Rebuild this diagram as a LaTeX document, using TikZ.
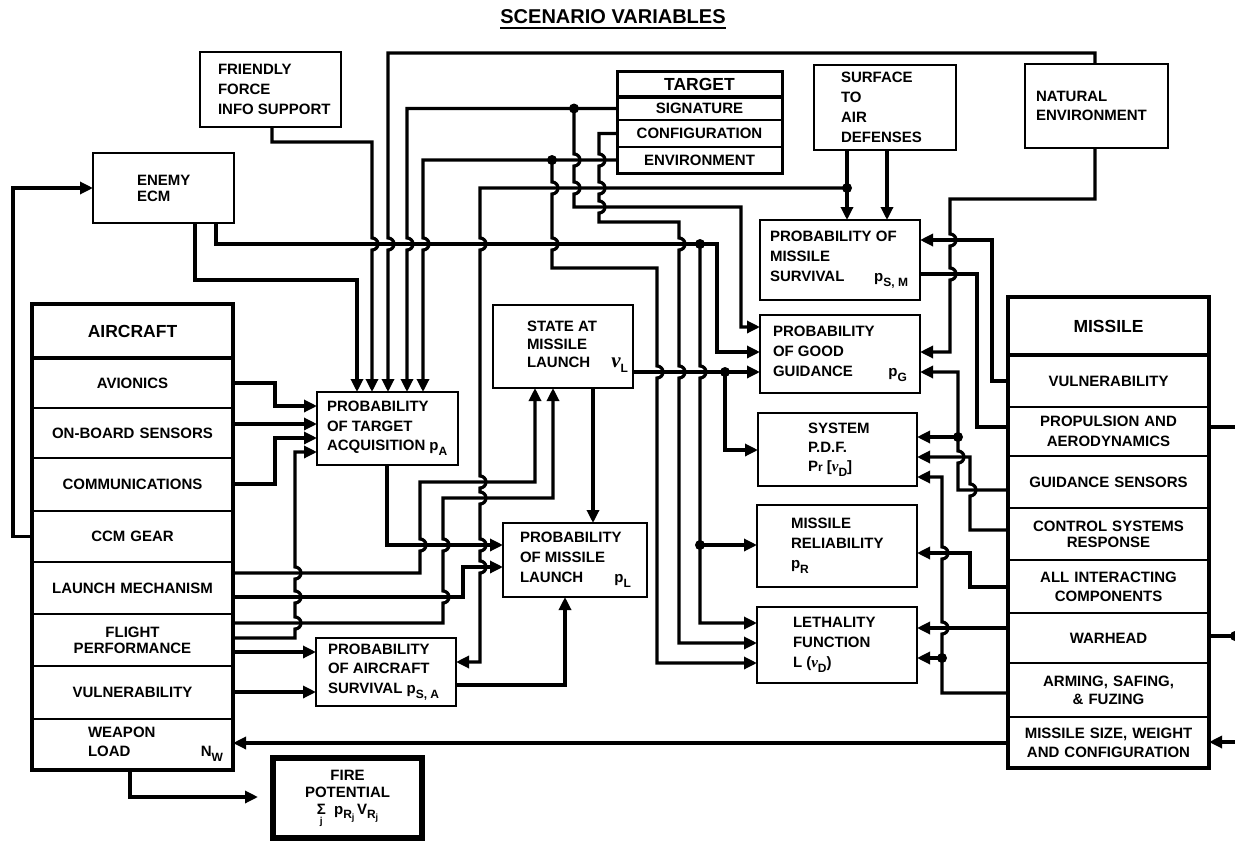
\documentclass[tikz,border=0pt]{standalone}
\usepackage{fontspec}
\setmainfont{Liberation Sans}
\newfontfamily\nufont{Liberation Serif}
\usetikzlibrary{arrows.meta}
\newcommand\sbs[1]{\raisebox{-0.32em}{\fontsize{12}{12}\selectfont #1}}
\newcommand\nuit{{\nufont\itshape\bfseries ν}}
\newcommand\jd[2]{-- (#1,#2-6) arc(-90:90:6)}
\newcommand\ju[2]{-- (#1,#2+6) arc(90:-90:6)}
\newcommand\lt[3]{\hspace*{#1pt}\parbox{#2pt}{\raggedright #3}}
\begin{document}
\begin{tikzpicture}[x=1pt,y=-1pt,
  font=\bfseries\fontsize{15}{20}\selectfont,
  bx/.style={draw, line width=2.4pt, inner sep=0pt, outer sep=0pt, anchor=north west},
  row/.style={draw, line width=1.4pt, inner sep=0pt, outer sep=0pt, anchor=north west, align=center},
  arow/.style={row, minimum width=201pt, text width=195pt},
  trow/.style={row, minimum width=165pt, text width=159pt},
  conn/.style={line width=3.2pt},
  arr/.style={conn, -{Triangle[length=13pt,width=12pt]}}]
\useasboundingbox (0,0) rectangle (1235,841);

% title
\node[inner sep=0pt] (title) at (613,17) {\fontsize{20}{24}\selectfont SCENARIO VARIABLES};
\draw[line width=1.6pt] ([yshift=-4pt]title.base west) -- ([yshift=-4pt]title.base east);

% upper boxes
\node[bx, minimum width=141pt, minimum height=75pt] (ff) at (200,52) {\lt{18}{123}{FRIENDLY\\FORCE\\INFO SUPPORT}};
\node[bx, minimum width=141pt, minimum height=70pt, font=\bfseries\fontsize{15}{16}\selectfont] (ecm) at (93,153) {\lt{44}{97}{ENEMY\\ECM}};
\node[bx, minimum width=142pt, minimum height=85pt] (sam) at (814,65) {\lt{27}{115}{SURFACE\\TO\\AIR\\DEFENSES}};
\node[bx, minimum width=143pt, minimum height=84pt, font=\bfseries\fontsize{15}{19}\selectfont] (nat) at (1025,64) {\lt{11}{132}{NATURAL\\ENVIRONMENT}};

% target
\node[trow, minimum height=26pt, font=\bfseries\fontsize{17.5}{20}\selectfont] (thead) at (617,71) {TARGET};
\node[trow, minimum height=23pt] (tsig) at (617,97) {SIGNATURE};
\node[trow, minimum height=27pt] (tconf) at (617,120) {CONFIGURATION};
\node[trow, minimum height=26pt] (tenv) at (617,147) {ENVIRONMENT};
\draw[line width=3pt] (thead.north west) rectangle (tenv.south east);
\draw[line width=4pt] (thead.south west) -- (thead.south east);

% middle boxes
\node[bx, minimum width=160pt, minimum height=80pt] (pms) at (760,220) {\lt{10}{150}{PROBABILITY OF\\MISSILE\\SURVIVAL\hfill p\sbs{S, M}\kern12pt}};
\node[bx, minimum width=160pt, minimum height=78pt] (pgg) at (760,315) {\lt{13}{147}{PROBABILITY\\OF GOOD\\GUIDANCE\hfill p\sbs{G}\kern13pt}};
\node[bx, minimum width=159pt, minimum height=73pt, font=\bfseries\fontsize{15}{19}\selectfont] (sys) at (758,413) {\lt{50}{109}{SYSTEM\\P.D.F.\\P{\fontsize{12}{12}\selectfont r} [\nuit\sbs{D}]}};
\node[bx, minimum width=160pt, minimum height=82pt] (mr) at (757,505) {\lt{34}{126}{MISSILE\\RELIABILITY\\p\sbs{R}}};
\node[bx, minimum width=160pt, minimum height=76pt] (lf) at (757,607) {\lt{36}{124}{LETHALITY\\FUNCTION\\L (\nuit\sbs{D})}};
\node[bx, minimum width=140pt, minimum height=83pt, font=\bfseries\fontsize{15}{18}\selectfont] (state) at (493,305) {\lt{34}{106}{STATE AT\\MISSILE\\LAUNCH\hfill{\fontsize{21}{21}\selectfont\nuit}\sbs{L}\kern5pt}};
\node[bx, minimum width=141pt, minimum height=73pt, font=\bfseries\fontsize{15}{19.5}\selectfont] (pta) at (317,392) {\lt{10}{131}{PROBABILITY\\OF TARGET\\ACQUISITION p\sbs{A}}};
\node[bx, minimum width=144pt, minimum height=74pt] (pml) at (503,523) {\lt{17}{127}{PROBABILITY\\OF MISSILE\\LAUNCH\hfill p\sbs{L}\kern16pt}};
\node[bx, minimum width=140pt, minimum height=68pt, font=\bfseries\fontsize{15}{19.5}\selectfont] (pas) at (316,638) {\lt{12}{128}{PROBABILITY\\OF AIRCRAFT\\SURVIVAL p\sbs{S, A}}};
\node[draw, line width=6pt, inner sep=0pt, outer sep=0pt, anchor=north west, minimum width=149pt, minimum height=80pt, align=center, font=\bfseries\fontsize{15}{17}\selectfont] (fire) at (273,758) {FIRE\\POTENTIAL\\\rlap{\raisebox{-10pt}{\kern3pt\fontsize{10}{10}\selectfont j}}Σ\ \ p\sbs{R\raisebox{-2pt}{\fontsize{9}{9}\selectfont j}}\,V\sbs{R\raisebox{-2pt}{\fontsize{9}{9}\selectfont j}}};

% aircraft
\node[arow, minimum height=54pt, font=\bfseries\fontsize{17.5}{20}\selectfont] (achead) at (32,304) {AIRCRAFT};
\node[arow, minimum height=50pt] (acav) at (32,358) {AVIONICS};
\node[arow, minimum height=50pt] (acob) at (32,408) {ON-BOARD SENSORS};
\node[arow, minimum height=53pt] (accom) at (32,458) {COMMUNICATIONS};
\node[arow, minimum height=51pt] (acccm) at (32,511) {CCM GEAR};
\node[arow, minimum height=52pt] (aclm) at (32,562) {LAUNCH MECHANISM};
\node[arow, minimum height=52pt, font=\bfseries\fontsize{15}{16}\selectfont] (acfl) at (32,614) {FLIGHT\\PERFORMANCE};
\node[arow, minimum height=53pt] (acvul) at (32,666) {VULNERABILITY};
\node[draw, line width=1.4pt, inner sep=0pt, outer sep=0pt, anchor=north west, minimum width=201pt, minimum height=51pt, font=\bfseries\fontsize{15}{19}\selectfont] (acwl) at (32,719) {\lt{56}{145}{WEAPON\\LOAD\hfill N\sbs{W}\kern10pt}};
\draw[line width=3.5pt] (achead.north west) rectangle (acwl.south east);
\draw[line width=4pt] (achead.south west) -- (achead.south east);

% missile
\node[arow, minimum height=58pt, font=\bfseries\fontsize{17.5}{20}\selectfont] (mhead) at (1008,297) {MISSILE};
\node[arow, minimum height=52pt] (mvul) at (1008,355) {VULNERABILITY};
\node[arow, minimum height=49pt] (mprop) at (1008,407) {PROPULSION AND\\AERODYNAMICS};
\node[arow, minimum height=52pt] (mguid) at (1008,456) {GUIDANCE SENSORS};
\node[arow, minimum height=52pt, font=\bfseries\fontsize{15}{16}\selectfont] (mctrl) at (1008,508) {CONTROL SYSTEMS\\RESPONSE};
\node[arow, minimum height=53pt, font=\bfseries\fontsize{15}{19}\selectfont] (mall) at (1008,560) {ALL INTERACTING\\COMPONENTS};
\node[arow, minimum height=50pt] (mwar) at (1008,613) {WARHEAD};
\node[arow, minimum height=54pt, font=\bfseries\fontsize{15}{18}\selectfont] (marm) at (1008,663) {ARMING, SAFING,\\\& FUZING};
\node[arow, minimum height=51pt, font=\bfseries\fontsize{15}{19}\selectfont] (msize) at (1008,717) {MISSILE SIZE, WEIGHT\\AND CONFIGURATION};
\draw[line width=3.5pt] (mhead.north west) rectangle (msize.south east);
\draw[line width=4pt] (mhead.south west) -- (mhead.south east);

% free ends
\coordinate (firein) at (258,797);
\coordinate (eastA) at (1235,427);
\coordinate (eastB) at (1235,636);
\coordinate (eastC) at (1235,742);

% ---- connectors ----
\draw[arr] (acccm.west) -- (acccm.west -| 13,0) -- (13,188) -- (ecm.west |- 0,188);
\draw[arr] (195,0 |- ecm.south) -- (195,280) -- (357,280) -- (357,0 |- pta.north);
\draw[arr] (216,0 |- ecm.south) -- (216,244) -- (717,244) -- (717,352) -- (pgg.west |- 0,352);
\fill (700,244) circle (5);
\draw[arr] (700,244) \jd{700}{372} -- (700,623) -- (lf.west |- 0,623);
\fill (700,545) circle (5);
\draw[arr] (700,545) -- (mr.west |- 0,545);

\draw[arr] (272,0 |- ff.south) -- (272,142) -- (372,142) \jd{372}{244} -- (372,0 |- pta.north);
\draw[arr] (1095,0 |- nat.north) -- (1095,53) -- (388,53) \jd{388}{244} -- (388,0 |- pta.north);

\draw[arr] (tsig.west) -- (407,0 |- tsig.west) \jd{407}{244} -- (407,0 |- pta.north);
\fill (574,108.5) circle (5);
\draw[arr] (574,108.5) \jd{574}{160} \jd{574}{188} -- (574,207) -- (741,207) -- (741,327) -- (pgg.west |- 0,327);

\draw[arr] (tenv.west) -- (423,160) \jd{423}{244} -- (423,0 |- pta.north);
\fill (552,160) circle (5);
\draw[arr] (552,160) \jd{552}{188} \jd{552}{244} -- (552,268) -- (657,268) \jd{657}{372} -- (657,663) -- (lf.west |- 0,663);

\draw[arr] (tconf.west) -- (599,133.5) \jd{599}{160} \jd{599}{188} \jd{599}{207} -- (599,222) -- (679,222) \jd{679}{244} \jd{679}{372} -- (679,643) -- (lf.west |- 0,643);

\draw[arr] (847,0 |- sam.south) -- (847,0 |- pms.north);
\draw[arr] (887,0 |- sam.south) -- (887,0 |- pms.north);
\fill (847,188) circle (5);
\draw[arr] (847,188) -- (480,188) \jd{480}{244} \jd{480}{482} \jd{480}{498} \jd{480}{545} \jd{480}{567} -- (480,662) -- (pas.east |- 0,662);

\draw[arr] (acav.east) -- (275,383) -- (275,406) -- (pta.west |- 0,406);
\draw[arr] (acob.east |- 0,424) -- (pta.west |- 0,424);
\draw[arr] (accom.east |- 0,484) -- (275,484) -- (275,438) -- (pta.west |- 0,438);
\draw[arr] (acfl.east |- 0,638) -- (295,638) \ju{295}{623} \ju{295}{597} \ju{295}{573} -- (295,452) -- (pta.west |- 0,452);

\draw[arr] (aclm.east |- 0,573) -- (420,573) \ju{420}{545} -- (420,482) -- (535,482) -- (535,0 |- state.south);
\draw[arr] (aclm.east |- 0,597) -- (463,597) -- (463,567) -- (pml.west |- 0,567);
\draw[arr] (acfl.east |- 0,623) -- (443,623) \ju{443}{597} \ju{443}{545} -- (443,498) -- (553,498) -- (553,0 |- state.south);
\draw[arr] (acfl.east |- 0,652) -- (pas.west |- 0,652);
\draw[arr] (acvul.east |- 0,692) -- (pas.west |- 0,692);
\draw[arr] (387,0 |- pta.south) -- (387,545) -- (pml.west |- 0,545);
\draw[arr] (pas.east |- 0,685) -- (565,685) -- (565,0 |- pml.south);
\draw[arr] (593,0 |- state.south) -- (593,0 |- pml.north);
\draw[arr] (state.east |- 0,372) -- (pgg.west |- 0,372);
\fill (725,372) circle (5);
\draw[arr] (725,372) -- (725,450) -- (sys.west |- 0,450);

\draw[arr] (1095,0 |- nat.south) -- (1095,199) -- (950,199) \jd{950}{240} \jd{950}{274} -- (950,352) -- (pgg.east |- 0,352);
\draw[arr] (mvul.west) -- (mvul.west -| 992,0) -- (992,240) -- (pms.east |- 0,240);
\draw[conn] (pms.east |- 0,274) -- (977,274) -- (977,427) -- (mprop.west |- 0,427);
\draw[arr] (mguid.west |- 0,490) -- (958,490) \ju{958}{457} -- (958,372) -- (pgg.east |- 0,372);
\fill (958,437) circle (5);
\draw[arr] (958,437) -- (sys.east |- 0,437);
\draw[arr] (mctrl.west |- 0,530) -- (970,530) \ju{970}{490} -- (970,457) -- (sys.east |- 0,457);
\draw[arr] (mall.west |- 0,587) -- (970,587) -- (970,553) -- (mr.east |- 0,553);
\draw[arr] (mwar.west |- 0,628) -- (lf.east |- 0,628);
\draw[arr] (marm.west |- 0,693) -- (942,693) \ju{942}{628} \ju{942}{553} -- (942,477) -- (sys.east |- 0,477);
\fill (942,658) circle (5);
\draw[arr] (942,658) -- (lf.east |- 0,658);

\draw[arr] (msize.west |- 0,743) -- (acwl.east |- 0,743);
\draw[arr] (130,0 |- acwl.south) -- (130,797) -- (firein);
\draw[conn] (mprop.east |- 0,427) -- (eastA);
\draw[conn] (mwar.east |- 0,636) -- (eastB);
\fill (eastB) circle (5);
\draw[arr] (eastC) -- (msize.east |- 0,742);
\end{tikzpicture}
\end{document}
